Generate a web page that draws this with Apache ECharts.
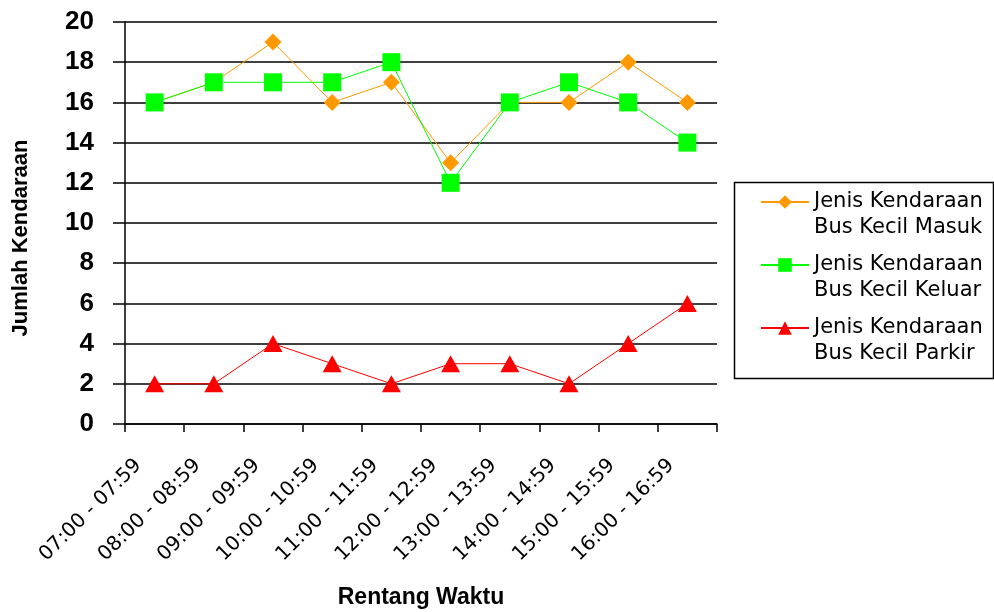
<!DOCTYPE html>
<html>
<head>
<meta charset="utf-8">
<script src="https://cdn.jsdelivr.net/npm/echarts@6/dist/echarts.min.js"></script>
<style>
  html, body { margin: 0; padding: 0; background: #fff; }
  #chart { width: 994px; height: 612px; }
</style>
</head>
<body>
<div id="chart"></div>
<script>
// Time slots (hourly) along the x axis
const timeSlots = [
  '07:00 - 07:59', '08:00 - 08:59', '09:00 - 09:59', '10:00 - 10:59', '11:00 - 11:59',
  '12:00 - 12:59', '13:00 - 13:59', '14:00 - 14:59', '15:00 - 15:59', '16:00 - 16:59'
];

// Vehicle counts per time slot
const busMasuk  = [16, 17, 19, 16, 17, 13, 16, 16, 18, 16];
const busKeluar = [16, 17, 17, 17, 18, 12, 16, 17, 16, 14];
const busParkir = [2, 2, 4, 3, 2, 3, 3, 2, 4, 6];

const seriesNames = [
  'Jenis Kendaraan\nBus Kecil Masuk',
  'Jenis Kendaraan\nBus Kecil Keluar',
  'Jenis Kendaraan\nBus Kecil Parkir'
];

const yTicks = { min: 0, max: 20, interval: 2 };

const chart = echarts.init(document.getElementById('chart'), null, { renderer: 'canvas' });

// One legend block per series; a leading blank line keeps the marker
// level with the first line of each two-line entry.
const legendLine = 26;
function legendFor(name, top) {
  return {
    data: [name],
    left: 760,
    top: top,
    padding: 0,
    itemWidth: 48,
    itemHeight: 17,
    selectedMode: false,
    formatter: (n) => '\n' + n,
    textStyle: {
      fontFamily: 'DejaVu Sans',
      fontSize: 21,
      color: '#000',
      lineHeight: legendLine
    }
  };
}

chart.setOption({
  animation: false,
  backgroundColor: '#fff',
  grid: { left: 125, right: 277, top: 22, bottom: 188, outerBoundsMode: 'none' },
  legend: [
    legendFor(seriesNames[0], 163),
    legendFor(seriesNames[1], 226),
    legendFor(seriesNames[2], 289)
  ],
  graphic: [{
    type: 'rect',
    left: 732, top: 180,
    shape: { width: 259, height: 196 },
    style: { fill: 'none', stroke: '#000', lineWidth: 1.5 },
    silent: true
  }],
  xAxis: {
    type: 'category',
    data: timeSlots,
    boundaryGap: true,
    name: 'Rentang Waktu',
    nameLocation: 'middle',
    nameGap: 162,
    nameTextStyle: { fontFamily: 'Liberation Sans', fontWeight: 'bold', fontSize: 23, color: '#000' },
    axisLine: { lineStyle: { color: '#000', width: 1.5 } },
    axisTick: { show: true, length: 8, inside: false, lineStyle: { color: '#000', width: 1.5 } },
    axisLabel: {
      rotate: 45,
      interval: 0,
      margin: 22,
      padding: [0, 23, 0, 0],
      fontFamily: 'DejaVu Sans',
      fontSize: 20,
      color: '#000'
    },
    splitLine: { show: false }
  },
  yAxis: {
    type: 'value',
    min: yTicks.min,
    max: yTicks.max,
    interval: yTicks.interval,
    name: 'Jumlah Kendaraan',
    nameLocation: 'middle',
    nameRotate: 90,
    nameGap: 93,
    nameTextStyle: {
      fontFamily: 'Liberation Sans', fontWeight: 'bold', fontSize: 22, color: '#000',
      padding: [0, 30, 0, 0]
    },
    axisLine: { show: true, lineStyle: { color: '#000', width: 1.5 } },
    axisTick: { show: true, length: 12, lineStyle: { color: '#000', width: 1.5 } },
    axisLabel: {
      margin: 31,
      fontFamily: 'Liberation Sans',
      fontWeight: 'bold',
      fontSize: 26,
      color: '#000'
    },
    splitLine: { show: true, lineStyle: { color: '#000', width: 1.5 } }
  },
  series: [
    {
      name: seriesNames[0],
      type: 'line',
      data: busMasuk,
      symbol: 'diamond',
      symbolSize: [17, 17],
      lineStyle: { color: '#FF9900', width: 1 },
      itemStyle: { color: '#FF9900' },
      z: 3
    },
    {
      name: seriesNames[1],
      type: 'line',
      data: busKeluar,
      symbol: 'rect',
      symbolSize: [18, 18],
      lineStyle: { color: '#00FF00', width: 1 },
      itemStyle: { color: '#00FF00' },
      z: 4
    },
    {
      name: seriesNames[2],
      type: 'line',
      data: busParkir,
      symbol: 'triangle',
      symbolSize: [19, 17],
      lineStyle: { color: '#FF0000', width: 1 },
      itemStyle: { color: '#FF0000' },
      z: 5
    }
  ]
});
</script>
</body>
</html>
